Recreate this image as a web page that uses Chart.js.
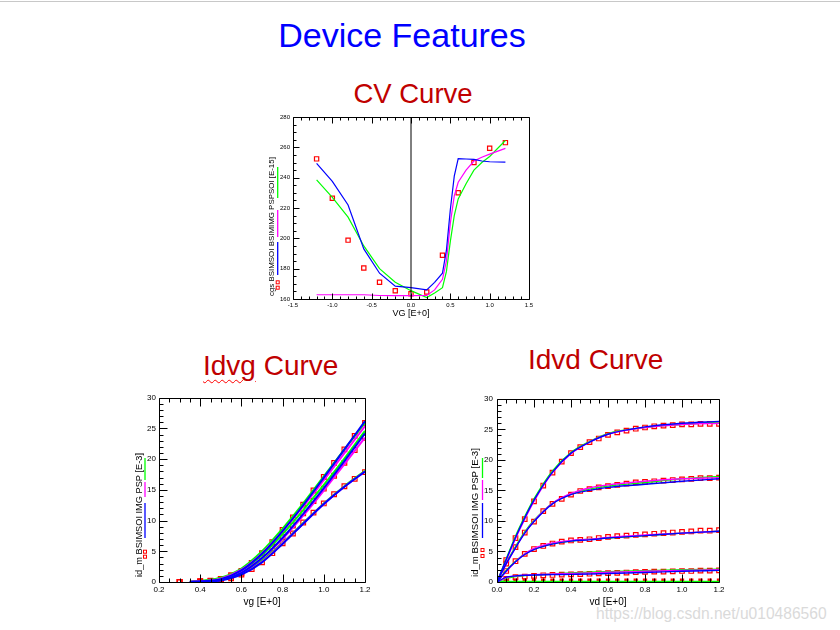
<!DOCTYPE html>
<html>
<head>
<meta charset="utf-8">
<script src="https://cdn.jsdelivr.net/npm/chart.js@4"></script>
<style>
  body { margin: 0; width: 840px; height: 630px; position: relative; background: #fff; overflow: hidden;
         font-family: "Liberation Sans", Arial, sans-serif; }
  .topline { position: absolute; left: 0; top: 1px; width: 840px; height: 1px; background: #c8c8c8; }
  .t { position: absolute; white-space: nowrap; line-height: 1; }
  .red { color: #c00000; }
  .wavy { text-decoration: underline wavy #ff0000; text-decoration-thickness: 1px; text-underline-offset: 4px; }
  canvas { position: absolute; }
</style>
</head>
<body>
<div class="topline"></div>
<div class="t" style="left:402px; top:18px; font-size:34px; color:#0000ff; transform:translateX(-50%)">Device Features</div>
<div class="t red" style="left:413px; top:80px; font-size:27.5px; transform:translateX(-50%)">CV Curve</div>
<div class="t red" style="left:203px; top:352px; font-size:28px"><span class="wavy">Idvg</span> Curve</div>
<div class="t red" style="left:528px; top:346px; font-size:28px">Idvd Curve</div>
<div class="t" style="left:596px; top:606px; font-size:15.6px; color:#dadada">https://blog.csdn.net/u010486560</div>

<canvas id="cv" width="290" height="215" style="left:250px; top:110px"></canvas>
<canvas id="idvg" width="265" height="225" style="left:110px; top:390px"></canvas>
<canvas id="idvd" width="280" height="225" style="left:450px; top:390px"></canvas>

<script>
// ---- CV curve (cgs, E-15) ----
const cvVgMeas = [-1.2, -1.0, -0.8, -0.6, -0.4, -0.2, 0.0, 0.2, 0.4, 0.6, 0.8, 1.0, 1.2];
const cvMeas   = [252.4, 226.4, 198.8, 180.4, 171.0, 165.5, 163.5, 164.6, 188.9, 230.0, 250.0, 259.4, 263.1];
const cvVgModel = [-1.2, -1.0, -0.8, -0.6, -0.4, -0.2, 0.0, 0.2, 0.3, 0.4, 0.45, 0.5, 0.55, 0.6, 0.7, 0.8, 0.9, 1.0, 1.2];
const cvBsimsoi = [249.4, 237.5, 222.0, 193.0, 177.0, 168.5, 167.5, 166.0, 171.0, 177.0, 192.0, 219.0, 241.0, 252.6, 252.3, 252.0, 251.0, 250.5, 250.3];
const cvBsimimg = [162.8, 162.8, 162.8, 162.8, 162.3, 162.2, 162.2, 162.3, 166.0, 173.0, 185.0, 210.0, 228.0, 237.0, 245.0, 251.0, 253.5, 255.5, 259.3];
const cvPspsoi  = [238.5, 227.0, 214.0, 195.0, 180.0, 171.0, 165.5, 161.0, 164.0, 167.5, 178.0, 198.0, 215.0, 226.0, 236.0, 245.0, 250.0, 254.0, 264.5];
const cvZeroX = [0, 0];
const cvZeroY = [160, 280];

// ---- Id-Vg (E-3) ----
const idvgVgMeas = [0.3, 0.4, 0.45, 0.5, 0.55, 0.6, 0.65, 0.7, 0.75, 0.8, 0.85, 0.9, 0.95, 1.0, 1.05, 1.1, 1.15, 1.2];
const idvgMeasA = [0, 0.15, 0.2, 0.5, 1.1, 1.8, 3.1, 4.7, 6.5, 8.5, 10.5, 12.6, 14.9, 17.1, 19.4, 21.6, 23.8, 25.9];
const idvgMeasB = [0, 0.1, 0.15, 0.4, 0.9, 1.5, 2.6, 3.9, 5.5, 7.3, 9.2, 11.2, 13.2, 15.2, 17.3, 19.4, 21.5, 23.5];
const idvgMeasC = [0, 0.05, 0.1, 0.1, 0.6, 1.2, 2.1, 3.2, 4.7, 6.3, 7.9, 9.7, 11.3, 12.8, 14.3, 15.6, 16.8, 17.9];
const idvgVgModel = [0.35, 0.4, 0.5, 0.6, 0.7, 0.8, 0.9, 1.0, 1.1, 1.2];
const idvgBsimsoiA = [0.02, 0.08, 0.45, 1.9, 4.6, 8.3, 12.5, 17.0, 21.6, 26.2];
const idvgBsimimgA = [0.03, 0.10, 0.55, 2.0, 4.7, 8.3, 12.3, 16.6, 21.0, 25.4];
const idvgPspA     = [0.05, 0.15, 0.70, 2.2, 5.0, 8.7, 12.8, 17.2, 21.6, 25.9];
const idvgBsimsoiB = [0.01, 0.06, 0.35, 1.5, 3.9, 7.2, 11.1, 15.3, 19.7, 24.2];
const idvgBsimimgB = [0.02, 0.08, 0.45, 1.6, 3.9, 7.0, 10.8, 14.9, 19.2, 23.5];
const idvgPspB     = [0.04, 0.12, 0.60, 1.9, 4.4, 7.8, 11.7, 15.8, 20.1, 24.6];
const idvgBsimsoiC = [0.01, 0.04, 0.25, 1.2, 3.2, 6.2, 9.5, 12.7, 15.5, 18.0];
const idvgBsimimgC = [0.02, 0.07, 0.35, 1.3, 3.3, 6.3, 9.5, 12.7, 15.5, 18.0];
const idvgPspC     = [0.03, 0.10, 0.45, 1.5, 3.5, 6.4, 9.6, 12.8, 15.6, 18.1];

// ---- Id-Vd (E-3) ----
const idvdVdMeas = [0, 0.05, 0.1, 0.15, 0.2, 0.25, 0.3, 0.35, 0.4, 0.45, 0.5, 0.55, 0.6, 0.65, 0.7, 0.75, 0.8, 0.85, 0.9, 0.95, 1.0, 1.05, 1.1, 1.15, 1.2];
const idvdMeasA = [0, 3.6, 7.2, 10.3, 13.2, 15.8, 17.9, 19.7, 21.1, 22.1, 22.9, 23.5, 24.1, 24.5, 24.8, 25.1, 25.3, 25.5, 25.6, 25.7, 25.8, 25.8, 25.9, 25.9, 25.9];
const idvdMeasB = [0, 3.0, 5.7, 8.1, 9.9, 11.6, 12.8, 13.6, 14.3, 14.9, 15.2, 15.5, 15.7, 15.9, 16.1, 16.3, 16.4, 16.5, 16.6, 16.7, 16.8, 16.9, 17.0, 17.0, 17.1];
const idvdMeasC = [0, 1.8, 3.4, 4.6, 5.4, 5.9, 6.3, 6.6, 6.8, 6.9, 7.0, 7.2, 7.4, 7.5, 7.6, 7.7, 7.8, 7.9, 8.0, 8.1, 8.2, 8.3, 8.4, 8.4, 8.5];
const idvdMeasD = [0, 0.5, 0.8, 0.9, 1.0, 1.1, 1.15, 1.2, 1.25, 1.3, 1.35, 1.4, 1.45, 1.5, 1.55, 1.6, 1.65, 1.7, 1.7, 1.75, 1.8, 1.8, 1.85, 1.85, 1.9];
const idvdMeasE = [0, 0.15, 0.2, 0.2, 0.2, 0.2, 0.2, 0.2, 0.2, 0.2, 0.2, 0.2, 0.2, 0.2, 0.2, 0.2, 0.2, 0.2, 0.2, 0.2, 0.2, 0.2, 0.2, 0.2, 0.2];
const idvdVdModel = [0, 0.05, 0.1, 0.15, 0.2, 0.3, 0.4, 0.5, 0.6, 0.8, 1.0, 1.2];
const idvdBsimsoiA = [0, 3.7, 7.3, 10.5, 13.4, 18.0, 21.1, 22.9, 24.2, 25.4, 26.0, 26.3];
const idvdBsimimgA = [0, 3.5, 7.1, 10.3, 13.2, 17.9, 21.0, 22.9, 24.2, 25.3, 25.8, 26.0];
const idvdPspA     = [0, 3.8, 7.5, 10.7, 13.6, 18.2, 21.2, 23.0, 24.3, 25.3, 25.8, 26.2];
const idvdBsimsoiB = [0, 3.0, 5.6, 8.0, 9.9, 12.8, 14.3, 15.0, 15.5, 16.0, 16.5, 16.9];
const idvdBsimimgB = [0, 2.9, 5.6, 8.0, 10.0, 12.9, 14.5, 15.4, 15.9, 16.5, 16.9, 17.1];
const idvdPspB     = [0, 3.1, 5.8, 8.2, 10.1, 12.9, 14.4, 15.2, 15.7, 16.3, 16.9, 17.3];
const idvdBsimsoiC = [0, 1.8, 3.3, 4.5, 5.3, 6.2, 6.7, 6.9, 7.2, 7.6, 8.0, 8.3];
const idvdBsimimgC = [0, 1.7, 3.3, 4.6, 5.5, 6.4, 6.8, 7.0, 7.3, 7.7, 8.0, 8.3];
const idvdPspC     = [0, 1.9, 3.4, 4.6, 5.4, 6.3, 6.7, 7.0, 7.2, 7.6, 8.0, 8.3];
const idvdBsimsoiD = [0, 0.8, 1.0, 1.1, 1.15, 1.2, 1.25, 1.3, 1.4, 1.55, 1.75, 1.9];
const idvdBsimimgD = [0, 0.7, 1.0, 1.1, 1.2, 1.3, 1.4, 1.5, 1.6, 1.75, 1.9, 2.0];
const idvdPspD     = [0, 0.6, 0.9, 1.05, 1.15, 1.3, 1.5, 1.6, 1.7, 1.85, 2.0, 2.1];
const idvdPspE     = [0, 0, 0, 0, 0, 0, 0, 0, 0, 0, 0, 0];

const RED = '#ff0000', BLUE = '#0000ff', MAG = '#ff00ff', GREEN = '#00ff00';
const FONT = '"Liberation Sans", Arial, sans-serif';

function pts(xs, ys) { return xs.map((x, i) => ({x: x, y: ys[i]})); }

function line(xs, ys, color, w, smooth) {
  return {data: pts(xs, ys), borderColor: color, borderWidth: w, pointRadius: 0, fill: false,
          cubicInterpolationMode: smooth ? 'monotone' : 'default', tension: 0};
}
function meas(xs, ys, r, filled) {
  return {data: pts(xs, ys), showLine: false, pointStyle: 'rect', pointRadius: r,
          pointBorderColor: RED, pointBackgroundColor: filled ? RED : 'rgba(0,0,0,0)', pointBorderWidth: 1.2};
}

// box around the plot, ticks drawn inward on bottom, top and left
const frame = {
  id: 'frame',
  afterDatasetsDraw(chart, args, o) {
    const {ctx, chartArea: a, scales: {x, y}} = chart;
    const L = Math.round(a.left) + 0.5, R = Math.round(a.right) + 0.5;
    const T = Math.round(a.top) + 0.5, B = Math.round(a.bottom) + 0.5;
    ctx.save();
    ctx.strokeStyle = '#000';
    ctx.lineWidth = 1;
    ctx.beginPath();
    ctx.rect(L, T, R - L, B - T);
    const isMajor = (v, step) => Math.abs(v / step - Math.round(v / step)) < 1e-6;
    const nx = Math.round((x.max - x.min) / o.xMinor);
    for (let i = 0; i <= nx; i++) {
      const v = x.min + i * o.xMinor;
      const px = Math.round(x.getPixelForValue(v)) + 0.5;
      const len = isMajor(v, o.xMajor) ? o.majLen : o.minLen;
      ctx.moveTo(px, B); ctx.lineTo(px, B - len);
      ctx.moveTo(px, T); ctx.lineTo(px, T + len);
    }
    const ny = Math.round((y.max - y.min) / o.yMinor);
    for (let i = 0; i <= ny; i++) {
      const v = y.min + i * o.yMinor;
      const py = Math.round(y.getPixelForValue(v)) + 0.5;
      const len = isMajor(v, o.yMajor) ? o.majLen : o.minLen;
      ctx.moveTo(L, py); ctx.lineTo(L + len, py);
    }
    ctx.stroke();
    ctx.restore();
  }
};

// rotated y title with the little legend strokes beside it
const yLegend = {
  id: 'yLegend',
  afterDraw(chart, args, o) {
    const {ctx, chartArea: a} = chart;
    ctx.save();
    ctx.translate(a.left - o.textGap, a.bottom);
    ctx.rotate(-Math.PI / 2);
    ctx.font = '10px ' + FONT;
    const size = 10 * o.len / ctx.measureText(o.text).width;
    ctx.font = size + 'px ' + FONT;
    ctx.fillStyle = '#000';
    ctx.fillText(o.text, o.start, 0);
    ctx.lineWidth = 1.3;
    o.segs.forEach(s => {
      ctx.strokeStyle = s[2];
      ctx.beginPath();
      ctx.moveTo(s[0], o.segGap); ctx.lineTo(s[1], o.segGap);
      ctx.stroke();
    });
    ctx.strokeStyle = RED;
    ctx.lineWidth = 1;
    o.squares.forEach(p => ctx.strokeRect(p - 1.5, o.segGap - 1.5, 3, 3));
    ctx.restore();
  }
};

function makeChart(id, datasets, c) {
  new Chart(document.getElementById(id), {
    type: 'line',
    data: {datasets: datasets},
    options: {
      responsive: false, animation: false, events: [],
      layout: {padding: {left: 0, top: c.padTop, right: c.padRight, bottom: 0}},
      plugins: {legend: {display: false}, tooltip: {enabled: false}, frame: c.frame, yLegend: c.legend},
      scales: {
        x: {
          type: 'linear', min: c.xMin, max: c.xMax,
          grid: {display: false, drawTicks: false, tickLength: 0}, border: {display: false},
          ticks: {stepSize: c.xStep, padding: 3, color: '#000', maxRotation: 0, autoSkip: false,
                  font: {size: c.tickSize, family: FONT}, callback: v => v.toFixed(1)},
          title: {display: true, text: c.xTitle, color: '#000', font: {size: c.titleSize, family: FONT},
                  padding: {top: 0, bottom: c.titlePad}},
          afterFit: s => { s.height = c.xHeight; }
        },
        y: {
          type: 'linear', min: c.yMin, max: c.yMax,
          grid: {display: false, drawTicks: false, tickLength: 0}, border: {display: false},
          ticks: {stepSize: c.yStep, padding: c.yTickPad, color: '#000', autoSkip: false,
                  font: {size: c.tickSize, family: FONT}},
          afterFit: s => { s.width = c.yWidth; }
        }
      }
    },
    plugins: [frame, yLegend]
  });
}

makeChart('cv', [
  line(cvZeroX, cvZeroY, '#000', 1, false),
  line(cvVgModel, cvBsimsoi, BLUE, 1.2, false),
  line(cvVgModel, cvBsimimg, MAG, 1.2, false),
  line(cvVgModel, cvPspsoi, GREEN, 1.2, false),
  meas(cvVgMeas, cvMeas, 3, false)
], {
  padTop: 7, padRight: 11, xHeight: 26, yWidth: 43,
  xMin: -1.5, xMax: 1.5, xStep: 0.5, yMin: 160, yMax: 280, yStep: 20,
  tickSize: 6, yTickPad: 3, titleSize: 9, titlePad: 6, xTitle: 'VG [E+0]',
  frame: {xMajor: 0.5, xMinor: 0.1, yMajor: 20, yMinor: 5, majLen: 6, minLen: 3},
  legend: {text: 'cgs BSIMSOI BSIMIMG PSPSOI [E-15]', start: 3, len: 139, textGap: 19.5, segGap: 4.2,
           segs: [[24, 57, BLUE], [62, 89, MAG], [101, 132, GREEN]], squares: [11.3, 16.7]}
});

makeChart('idvg', [
  line(idvgVgModel, idvgBsimsoiC, BLUE, 2, true),
  line(idvgVgModel, idvgBsimsoiB, BLUE, 2, true),
  line(idvgVgModel, idvgBsimsoiA, BLUE, 2, true),
  line(idvgVgModel, idvgBsimimgC, MAG, 2, true),
  line(idvgVgModel, idvgBsimimgB, MAG, 2, true),
  line(idvgVgModel, idvgBsimimgA, MAG, 2, true),
  line(idvgVgModel, idvgPspC, GREEN, 2, true),
  line(idvgVgModel, idvgPspB, GREEN, 2, true),
  line(idvgVgModel, idvgPspA, GREEN, 2, true),
  meas(idvgVgMeas, idvgMeasA, 3.3, false),
  meas(idvgVgMeas, idvgMeasB, 3.3, false),
  meas(idvgVgMeas, idvgMeasC, 3.3, false)
], {
  padTop: 7, padRight: 10, xHeight: 33, yWidth: 49,
  xMin: 0.2, xMax: 1.2, xStep: 0.2, yMin: 0, yMax: 30, yStep: 5,
  tickSize: 8, yTickPad: 3, titleSize: 10, titlePad: 7, xTitle: 'vg [E+0]',
  frame: {xMajor: 0.2, xMinor: 0.05, yMajor: 5, yMinor: 1, majLen: 8, minLen: 4},
  legend: {text: 'id_m BSIMSOI IMG PSP [E-3]', start: 5, len: 124, textGap: 17.5, segGap: 3.5,
           segs: [[44, 79, BLUE], [85, 100, MAG], [102, 124, GREEN]], squares: [25.3, 30.3]}
});

makeChart('idvd', [
  line(idvdVdModel, idvdBsimsoiA, BLUE, 1.4, true),
  line(idvdVdModel, idvdBsimsoiB, BLUE, 1.4, true),
  line(idvdVdModel, idvdBsimsoiC, BLUE, 1.4, true),
  line(idvdVdModel, idvdBsimsoiD, BLUE, 1.4, true),
  line(idvdVdModel, idvdBsimimgA, MAG, 1.4, true),
  line(idvdVdModel, idvdBsimimgB, MAG, 1.4, true),
  line(idvdVdModel, idvdBsimimgC, MAG, 1.4, true),
  line(idvdVdModel, idvdBsimimgD, MAG, 1.4, true),
  line(idvdVdModel, idvdPspA, GREEN, 1.4, true),
  line(idvdVdModel, idvdPspB, GREEN, 1.4, true),
  line(idvdVdModel, idvdPspC, GREEN, 1.4, true),
  line(idvdVdModel, idvdPspD, GREEN, 1.4, true),
  line(idvdVdModel, idvdPspE, GREEN, 2.5, true),
  meas(idvdVdMeas, idvdMeasA, 3.2, false),
  meas(idvdVdMeas, idvdMeasB, 3.2, false),
  meas(idvdVdMeas, idvdMeasC, 3.2, false),
  meas(idvdVdMeas, idvdMeasD, 3.2, false),
  meas(idvdVdMeas, idvdMeasE, 2.2, true)
], {
  padTop: 7, padRight: 11, xHeight: 33, yWidth: 47,
  xMin: 0, xMax: 1.2, xStep: 0.2, yMin: 0, yMax: 30, yStep: 5,
  tickSize: 8, yTickPad: 4, titleSize: 10, titlePad: 7, xTitle: 'vd [E+0]',
  frame: {xMajor: 0.2, xMinor: 0.05, yMajor: 5, yMinor: 1, majLen: 8, minLen: 4},
  legend: {text: 'id_m BSIMSOI IMG PSP [E-3]', start: 5, len: 129, textGap: 19.5, segGap: 5,
           segs: [[44, 79, BLUE], [82, 102, MAG], [104, 124, GREEN]], squares: [26, 32]}
});
</script>
</body>
</html>
